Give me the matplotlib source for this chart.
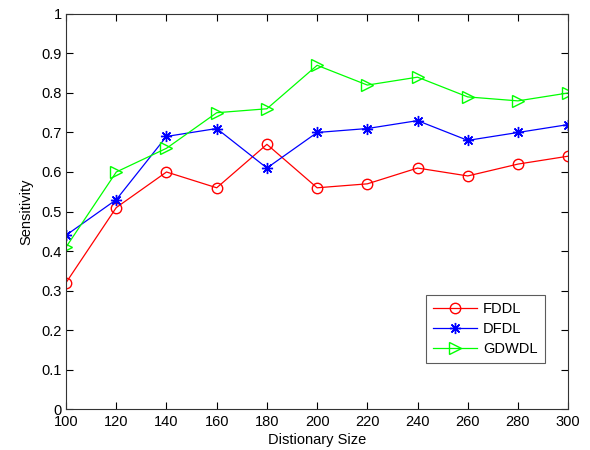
import matplotlib
matplotlib.use('Agg')
import matplotlib.pyplot as plt

plt.rcParams['font.family'] = ['Liberation Sans', 'DejaVu Sans']

# Dictionary sizes and sensitivity per method
dict_sizes = [100, 120, 140, 160, 180, 200, 220, 240, 260, 280, 300]
fddl = [0.32, 0.51, 0.60, 0.56, 0.67, 0.56, 0.57, 0.61, 0.59, 0.62, 0.64]
dfdl = [0.44, 0.53, 0.69, 0.71, 0.61, 0.70, 0.71, 0.73, 0.68, 0.70, 0.72]
gdwdl = [0.41, 0.60, 0.66, 0.75, 0.76, 0.87, 0.82, 0.84, 0.79, 0.78, 0.80]

y_ticks = [0, 0.1, 0.2, 0.3, 0.4, 0.5, 0.6, 0.7, 0.8, 0.9, 1]
y_labels = ['0', '0.1', '0.2', '0.3', '0.4', '0.5', '0.6', '0.7', '0.8', '0.9', '1']

fig = plt.figure(figsize=(5.9, 4.5), dpi=100)
ax = fig.add_axes([0.112, 0.091, 0.851, 0.878])

# matplotlib asterisk marker with 8 arms, like MATLAB '*'
asterisk = (8, 2, 0)

ax.plot(dict_sizes, fddl, color='#ff0000', marker='o', markersize=7.5,
        markerfacecolor='none', linewidth=0.9, label='FDDL')
ax.plot(dict_sizes, dfdl, color='#0000ff', marker=asterisk, markersize=8,
        markeredgewidth=1.0, linewidth=0.9, label='DFDL')
ax.plot(dict_sizes, gdwdl, color='#00ff00', marker='>', markersize=9,
        markerfacecolor='none', linewidth=0.9, label='GDWDL')

ax.set_xlim(100, 300)
ax.set_ylim(0, 1)
ax.set_xticks(dict_sizes)
ax.set_yticks(y_ticks)
ax.set_yticklabels(y_labels)
ax.tick_params(direction='in', top=True, right=True, length=5, labelsize=10.5, width=0.8)
ax.tick_params(axis='x', pad=4.5)
ax.tick_params(axis='y', pad=3)
for s in ax.spines.values():
    s.set_linewidth(0.8)
    s.set_color('#333333')

ax.set_xlabel('Distionary Size', fontsize=10.5, labelpad=3)
ax.set_ylabel('Sensitivity', fontsize=10.5, labelpad=6)

leg = ax.legend(loc='lower right', bbox_to_anchor=(0.953, 0.116), fancybox=False,
                fontsize=10.5, borderpad=0.5, handlelength=3.0, handletextpad=0.4,
                labelspacing=0.4, edgecolor='#333333', borderaxespad=0)
leg.get_frame().set_linewidth(0.8)

fig.savefig('out.png', dpi=100)
